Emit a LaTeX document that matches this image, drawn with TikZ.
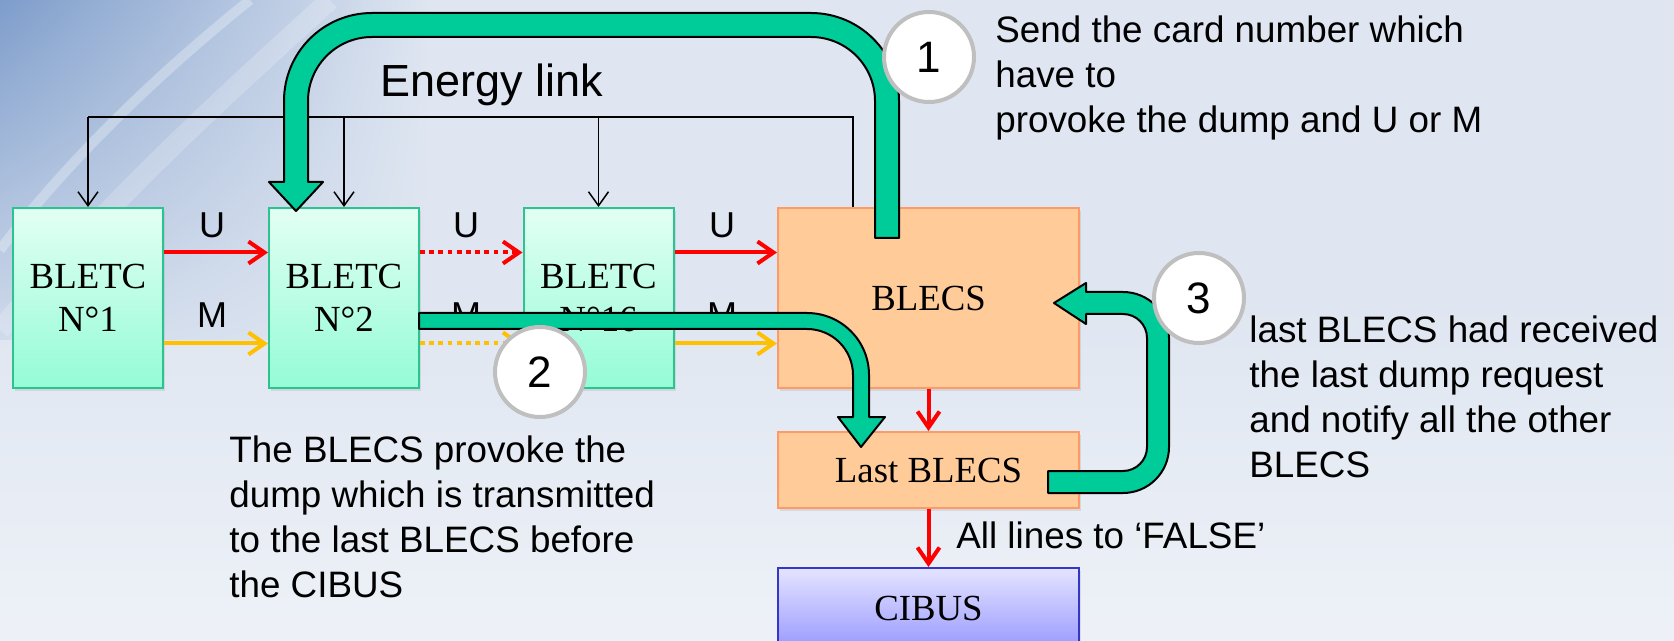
\documentclass[tikz,border=0pt]{standalone}
\usepackage{fontspec}
\setmainfont{Liberation Serif}
\setsansfont{Liberation Sans}
\usetikzlibrary{arrows.meta,calc,shadows,shadings}
\definecolor{bgc}{HTML}{DFE6F1}
\definecolor{bgdark}{HTML}{7E9DCB}
\definecolor{mintT}{HTML}{E2FFF3}
\definecolor{mintB}{HTML}{94FCD6}
\definecolor{mintD}{HTML}{2CC48E}
\definecolor{peach}{HTML}{FFCC99}
\definecolor{peachD}{HTML}{FF9A66}
\definecolor{lavT}{HTML}{E4E4FF}
\definecolor{lavB}{HTML}{9A9AFF}
\definecolor{lavD}{HTML}{3535C8}
\definecolor{flow}{HTML}{00CC99}
\definecolor{ring}{HTML}{BFBFBF}
\definecolor{gold}{HTML}{FFC000}
\begin{document}
\begin{tikzpicture}[x=0.5pt,y=-0.5pt,
  boxshadow/.style={drop shadow={opacity=.18,shadow xshift=1.2pt,shadow yshift=-1.5pt}},
  serifbox/.style={inner sep=0pt,align=center,font=\fontsize{18.4}{21.5}\selectfont,boxshadow},
  bletc/.style={serifbox,draw=mintD,line width=1pt,top color=mintT,bottom color=mintB,minimum width=75pt,minimum height=90pt},
  blecs/.style={serifbox,draw=peachD,line width=1pt,fill=peach,minimum width=150.5pt},
  cibus/.style={serifbox,draw=lavD,line width=1pt,top color=lavT,bottom color=lavB,minimum width=150.5pt,minimum height=40pt},
  elink/.style={draw=black,line width=0.75pt},
  elinktip/.style={elink,-{Straight Barb[length=7pt,width=10pt]}},
  uarrow/.style={draw=red,line width=2pt,-{Straight Barb[length=8pt,width=11pt]}},
  marrow/.style={draw=gold,line width=2pt,-{Straight Barb[length=8pt,width=11pt]}},
  dotline/.style={dash pattern=on 2.4pt off 2.2pt},
  lbl/.style={font=\sffamily\fontsize{18}{21}\selectfont,inner sep=0pt,anchor=base},
  desc/.style={font=\sffamily\fontsize{18.4}{22.5}\selectfont,align=left,inner sep=0pt,anchor=base west},
  flowarrow/.style={fill=flow,draw=black,line width=1pt,line join=round},
  numcirc/.style={circle,fill=white,draw=ring,line width=2pt,minimum size=45pt,inner sep=0pt,font=\sffamily\fontsize{22}{26}\selectfont}
]
\clip (0,0) rectangle (1674,641);
% background
\fill[bgc] (0,0) rectangle (1674,641);
\shade[top color=bgc,bottom color=bgc!55!white] (0,300) rectangle (1674,641);
\shade[upper left=bgdark,upper right=bgc,lower left=bgc!85!bgdark,lower right=bgc] (0,0) rectangle (430,340);
\draw[white,opacity=.3,line width=5pt] (250,0) .. controls (150,80) and (60,170) .. (0,250);
\draw[white,opacity=.2,line width=10pt] (330,0) .. controls (220,100) and (110,200) .. (0,330);

% boxes
\node[bletc] (n1) at (88,298) {BLETC\\N°1};
\node[bletc] (n2) at (344,298) {BLETC\\N°2};
\node[bletc] (n16) at (598.5,298) {BLETC\\N°16};
\node[blecs,minimum height=90pt] (blecs) at (928.5,298) {BLECS};
\node[blecs,minimum height=38pt] (last) at (928.5,470) {Last BLECS};
\node[cibus] (cibus) at (928.5,608) {CIBUS};

% energy link
\coordinate (el) at (89,117);
\coordinate (er) at (853,117);
\draw[elink] (n1.north |- el) -- (er) -- (er |- blecs.north);
\draw[elinktip] (n1.north |- el) -- (n1.north);
\draw[elinktip] (n2.north |- el) -- (n2.north);
\draw[elinktip] (n16.north |- el) -- (n16.north);
\node[font=\sffamily\fontsize{22.5}{26}\selectfont,inner sep=0pt,anchor=base west] (eltext) at (380,97) {Energy link};

% U / M links
\draw[uarrow] ($(n1.north east)!.25!(n1.south east)$) -- ($(n2.north west)!.25!(n2.south west)$);
\draw[marrow] ($(n1.north east)!.75!(n1.south east)$) -- ($(n2.north west)!.75!(n2.south west)$);
\draw[uarrow,dotline] ($(n2.north east)!.25!(n2.south east)$) -- ($(n16.north west)!.25!(n16.south west)$);
\draw[marrow,dotline] ($(n2.north east)!.75!(n2.south east)$) -- ($(n16.north west)!.75!(n16.south west)$);
\draw[uarrow] ($(n16.north east)!.25!(n16.south east)$) -- ($(blecs.north west)!.25!(blecs.south west)$);
\draw[marrow] ($(n16.north east)!.75!(n16.south east)$) -- ($(blecs.north west)!.75!(blecs.south west)$);
\node[lbl] (u1) at (212,238) {U};
\node[lbl] (m1) at (212,328) {M};
\node[lbl] (u2) at (466,238) {U};
\node[lbl] (m2) at (466,328) {M};
\node[lbl] (u3) at (722,238) {U};
\node[lbl] (m3) at (722,328) {M};

% vertical red links
\draw[uarrow] (blecs.south) -- (last.north);
\draw[uarrow] (last.south) -- (cibus.north);
\node[desc] (falsetxt) at (956,548) {All lines to ‘FALSE’};

% big flow arrows
\filldraw[flowarrow] (899,238) -- (899,101) arc[start angle=0,end angle=-90,radius=88]
  -- (372,13) arc[start angle=-90,end angle=-180,radius=88]
  -- (284,182) -- (269,182) -- (296,211) -- (323,182) -- (308,182)
  -- (308,101) arc[start angle=180,end angle=270,radius=64]
  -- (811,37) arc[start angle=270,end angle=360,radius=64]
  -- (875,238) -- cycle;
\filldraw[flowarrow] (419,313) -- (807,313) arc[start angle=-90,end angle=0,radius=62]
  -- (869,417) -- (885,417) -- (861,447) -- (838,417) -- (853,417)
  -- (853,375) arc[start angle=0,end angle=-90,radius=46]
  -- (419,329) -- cycle;
\filldraw[flowarrow] (1048,471) -- (1123,471) arc[start angle=90,end angle=0,radius=24]
  -- (1147,338) arc[start angle=0,end angle=-90,radius=24]
  -- (1086,314) -- (1086,324) -- (1054,303) -- (1086,283) -- (1086,292)
  -- (1123,292) arc[start angle=-90,end angle=0,radius=46]
  -- (1169,447) arc[start angle=0,end angle=90,radius=46]
  -- (1048,493) -- cycle;

% step circles
\node[numcirc] (c1) at (929,57) {1};
\node[numcirc] (c2) at (540,372) {2};
\node[numcirc] (c3) at (1199,298) {3};

% descriptions (anchored at the baseline of their last line)
\node[desc] (t1) at (995,133) {Send the card number which\\have to\\provoke the dump and U or M};
\node[desc] (t2) at (229,597) {The BLECS provoke the\\dump which is transmitted\\to the last BLECS before\\the CIBUS};
\node[desc] (t3) at (1249,477) {last BLECS had received\\the last dump request\\and notify all the other\\BLECS};
\end{tikzpicture}
\end{document}
